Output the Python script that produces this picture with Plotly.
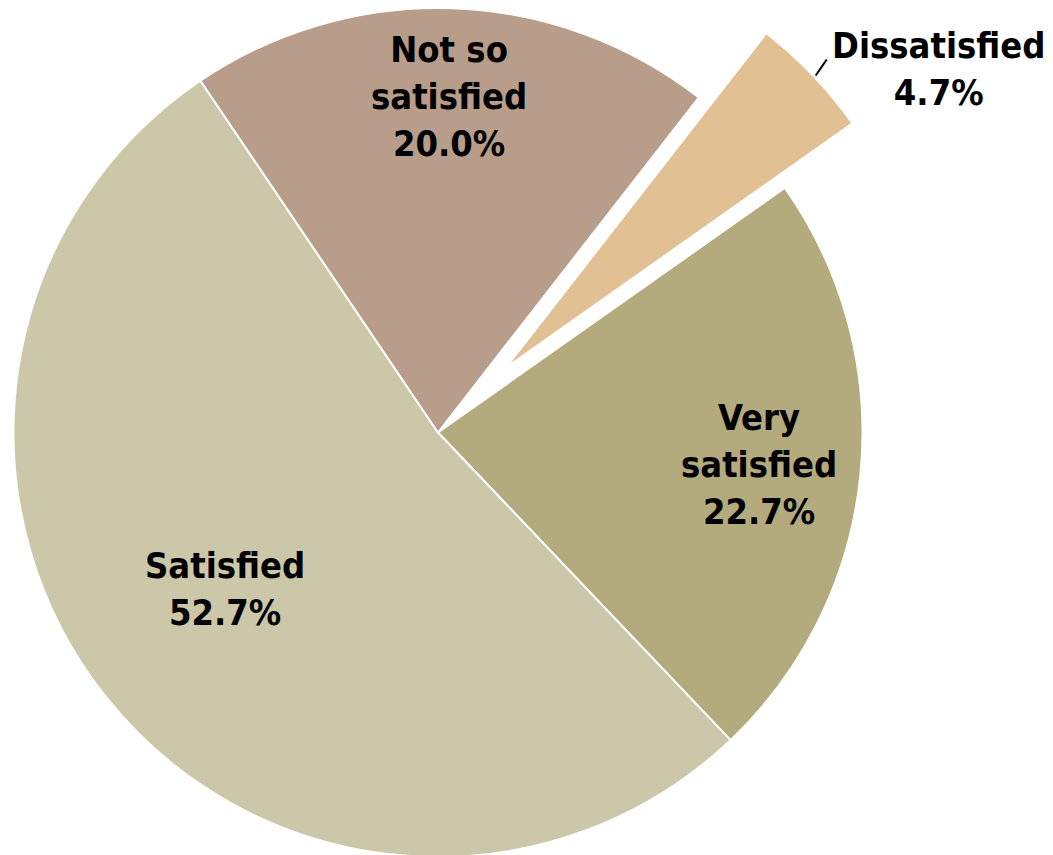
import numpy as np
import plotly.graph_objects as go

# ---- data ----
categories = ["Very satisfied", "Satisfied", "Not so satisfied", "Dissatisfied"]
values = [22.7, 52.7, 20.0, 4.7]
label_lines = ["Very<br>satisfied", "Satisfied", "Not so<br>satisfied", "Dissatisfied"]

# ---- style / layout parameters ----
colors = ["#B3AB7D", "#CCC7A8", "#B89D8A", "#E1C194"]
W, H = 1053, 855
bottom_pad = 6
cx_px = 430.0
rotation = 54.8
pull = 0.22
label_radius = [0.759, 0.623, 0.792]      # fraction of radius for inside labels
label_angle_shift = [0.0, 2.5, 0.0]       # degrees, label placement tweak
outside_label_pos = (930, 60.5)
FONT = dict(family="DejaVu Sans Condensed, DejaVu Sans, sans-serif", size=36,
            color="black", weight="bold")

r = (H - bottom_pad) / 2.0
cy_px = r

# angles (clockwise from 12 o'clock) derived from the values
total = float(sum(values))
spans = [v / total * 360.0 for v in values]
starts = rotation + np.concatenate([[0.0], np.cumsum(spans)[:-1]])
mids = starts + np.array(spans) / 2.0

fig = go.Figure()

# main pie (the pulled slice is left transparent and redrawn offset below)
pie_colors = colors[:-1] + ["rgba(0,0,0,0)"]
fig.add_trace(go.Pie(
    labels=categories, values=values, sort=False, direction="clockwise",
    rotation=rotation, textinfo="none", hoverinfo="label+percent",
    marker=dict(colors=pie_colors,
                line=dict(color="white", width=[2, 2, 2, 0])),
    domain=dict(x=[(cx_px - r) / W, (cx_px + r) / W], y=[bottom_pad / H, 1]),
    showlegend=False,
))

# exploded slice, drawn from the same value-derived angles
i = len(values) - 1
m = np.radians(mids[i])
tipx = cx_px + pull * r * np.sin(m)
tipy = cy_px - pull * r * np.cos(m)
a = np.radians(np.linspace(starts[i], starts[i] + spans[i], 60))
wx = np.concatenate([[tipx], tipx + r * np.sin(a), [tipx]])
wy = np.concatenate([[tipy], tipy - r * np.cos(a), [tipy]])
fig.add_trace(go.Scatter(
    x=wx, y=wy, mode="lines", fill="toself", fillcolor=colors[i],
    line=dict(color="white", width=2), hoverinfo="skip", showlegend=False,
))

annotations = []
for k in range(len(values) - 1):
    mk = np.radians(mids[k] + label_angle_shift[k])
    annotations.append(dict(
        x=cx_px + label_radius[k] * r * np.sin(mk),
        y=cy_px - label_radius[k] * r * np.cos(mk),
        xref="x", yref="y", showarrow=False,
        text=f"{label_lines[k]}<br>{values[k]:.1f}%", font=FONT,
        xanchor="center", yanchor="middle", align="center",
    ))
annotations.append(dict(
    x=outside_label_pos[0], y=outside_label_pos[1], xref="x", yref="y",
    showarrow=False, text=f"{label_lines[i]}<br>{values[i]:.1f}%", font=FONT,
    xanchor="center", yanchor="middle", align="center",
))

# leader line from the exploded slice's arc to its label
arcx = tipx + r * np.sin(m)
arcy = tipy - r * np.cos(m)
shapes = [dict(type="line", xref="x", yref="y",
               x0=arcx + 3, y0=arcy + 0.5, x1=arcx + 14, y1=arcy - 15.5,
               line=dict(color="black", width=2))]

fig.update_layout(
    width=W, height=H, margin=dict(l=0, r=0, t=0, b=0),
    paper_bgcolor="white", plot_bgcolor="white",
    xaxis=dict(range=[0, W], visible=False, fixedrange=True, domain=[0, 1]),
    yaxis=dict(range=[H, 0], visible=False, fixedrange=True, domain=[0, 1]),
    annotations=annotations, shapes=shapes,
)

fig.write_html("out.html")
